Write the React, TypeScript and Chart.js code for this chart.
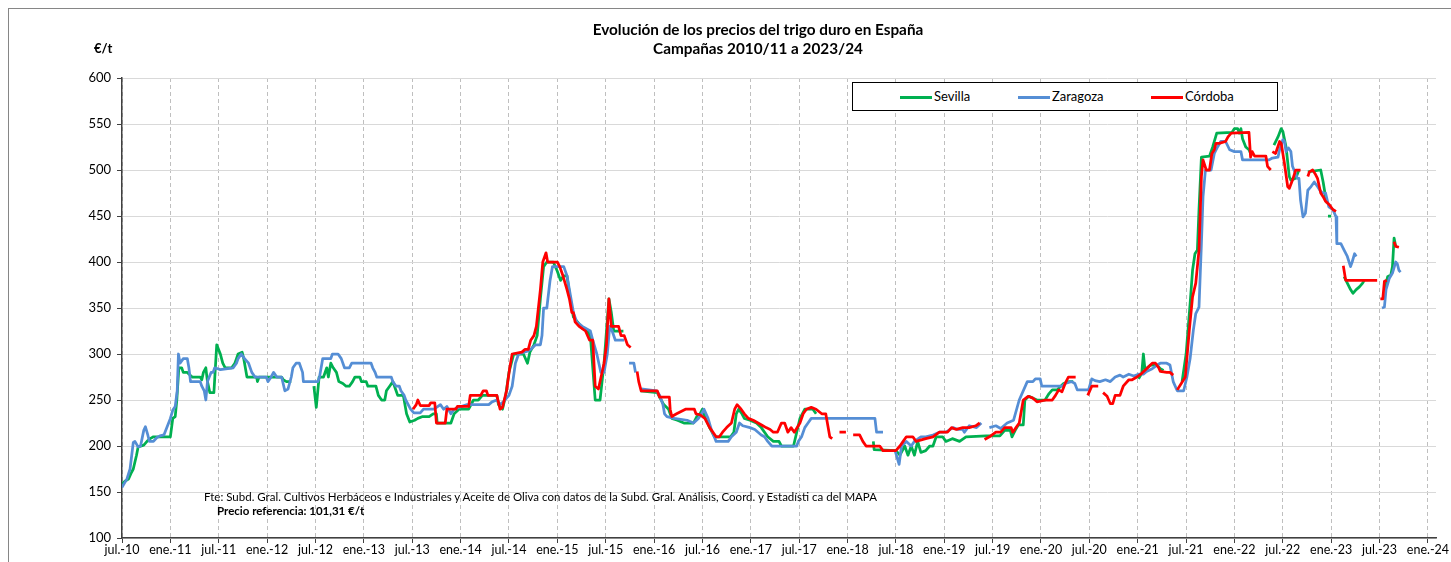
import React, { useEffect, useRef } from 'react';
import { Chart, registerables } from 'chart.js';

Chart.register(...registerables);

// x values are months elapsed since July 2010
const xTickLabels = [
  'jul.-10', 'ene.-11', 'jul.-11', 'ene.-12', 'jul.-12', 'ene.-13', 'jul.-13',
  'ene.-14', 'jul.-14', 'ene.-15', 'jul.-15', 'ene.-16', 'jul.-16', 'ene.-17',
  'jul.-17', 'ene.-18', 'jul.-18', 'ene.-19', 'jul.-19', 'ene.-20', 'jul.-20',
  'ene.-21', 'jul.-21', 'ene.-22', 'jul.-22', 'ene.-23', 'jul.-23', 'ene.-24',
];
const monthsPerTick = 6;
const xMaxMonths = 163;
const yMin = 100;
const yMax = 600;
const yStep = 50;

const seriesNames = ['Sevilla', 'Zaragoza', 'Córdoba'];

type P = [number, number | null];

const sevilla: P[] = [
  [0, 159], [0.4, 162], [0.8, 164], [1.1, 170], [1.4, 175], [1.8, 190], [2.0, 199], [2.7, 201],
  [3.1, 205], [3.5, 208], [3.9, 210], [6.0, 210], [6.3, 230], [6.6, 232], [6.8, 250], [7.05, 285],
  [7.4, 285], [7.6, 280], [8.1, 280], [8.7, 275], [9.7, 275], [9.9, 272], [10.1, 280], [10.4, 285],
  [10.6, 270], [10.9, 258], [11.4, 258], [11.75, 310], [12.2, 300], [12.5, 290], [12.8, 285],
  [13.6, 285], [14.0, 290], [14.2, 295], [14.4, 300], [14.9, 302], [15.1, 295], [15.3, 285],
  [15.5, 275], [16.7, 275], [16.8, 270], [17.0, 275], [19.8, 275], [20.0, 272], [20.4, 270],
  [21.0, 270], [21.1, null],
  [23.8, 265], [24.1, 242], [24.45, 275], [25.0, 275], [25.4, 285], [25.6, 275], [25.9, 290],
  [26.2, 285], [26.6, 280], [26.9, 270], [27.4, 268], [27.8, 265], [28.2, 265], [28.6, 270],
  [28.9, 275], [29.5, 275], [29.7, 270], [30.3, 270], [30.5, 265], [31.5, 265], [31.8, 255],
  [32.2, 250], [32.6, 250], [32.8, 260], [33.2, 265], [33.6, 270], [34.0, 260], [34.2, 255],
  [34.9, 255], [35.3, 235], [35.7, 226], [36.3, 228], [36.7, 230], [37.3, 232], [38.1, 232],
  [38.6, 235], [39.0, 235], [39.1, 225], [40.8, 225], [41.2, 235], [41.8, 240], [43.0, 240],
  [43.6, 250], [44.2, 250], [44.7, 255], [46.5, 255], [46.7, 245], [47.2, 240], [47.6, 255],
  [48.0, 280], [48.6, 300], [49.8, 300], [50.3, 290], [50.6, 302], [51.1, 310], [51.5, 320],
  [51.9, 360], [52.3, 395], [52.7, 400], [53.5, 400], [54.0, 390], [54.4, 380], [54.8, 385],
  [55.2, 385], [55.6, 360], [56.0, 340], [56.5, 335], [57.1, 328], [57.7, 325], [58.1, 320],
  [58.7, 250], [59.3, 250], [59.8, 290], [60.4, 360], [60.7, 345], [61.0, 325], [62.2, 325],
  [62.3, null],
  [64.3, 260], [66.4, 258], [66.7, 253], [67.2, 245], [67.8, 240], [68.2, 230], [68.9, 228],
  [69.7, 225], [70.9, 225], [71.3, 232], [71.7, 235], [72.0, 240], [72.3, 232], [72.9, 220],
  [73.5, 210], [75.5, 210], [75.9, 215], [76.2, 235], [76.5, 240], [76.9, 235], [77.2, 230],
  [77.9, 228], [78.7, 225], [79.3, 220], [80.1, 210], [80.8, 205], [81.5, 205], [81.8, 200],
  [83.3, 200], [83.7, 215], [84.1, 230], [84.7, 240], [85.7, 240], [86.1, 235], [86.3, null],
  [93.2, 205], [93.3, 196], [96.0, 195], [96.5, 190], [97.1, 200], [97.5, 190], [97.9, 200],
  [98.3, 190], [98.7, 205], [99.1, 193], [99.7, 195], [100.2, 200], [100.6, 200], [101.0, 210],
  [101.8, 210], [102.2, 205], [103.0, 208], [103.9, 205], [104.7, 210], [107.2, 211],
  [108.9, 211], [109.5, 217], [110.2, 217], [110.4, 210], [110.8, 217], [111.2, 223],
  [111.8, 223], [112.0, 250], [112.5, 254], [113.5, 250], [114.5, 250], [115.0, 257],
  [115.4, 261], [116.0, 261], [116.8, 268], [117.5, 270], [118.0, 270], [118.1, null],
  [126.1, 273], [126.5, 279], [126.7, 300], [126.9, 283], [127.6, 288], [128.4, 288],
  [128.8, 284], [129.2, 282], [129.3, null],
  [131.5, 270], [132.0, 300], [132.5, 355], [132.8, 391], [133.1, 409], [133.4, 413],
  [133.6, 457], [133.9, 514], [134.9, 515], [135.3, 525], [135.5, 531], [135.8, 540],
  [137.7, 541], [138.0, 545], [138.4, 545], [138.6, 540], [138.8, 545], [139.0, 534],
  [139.4, 525], [139.8, 522], [140.0, 518], [140.1, null],
  [142.9, 527], [143.4, 536], [143.8, 545], [144.0, 542], [144.4, 525], [144.8, 493],
  [145.0, 489], [145.6, 491], [146.0, 500], [146.1, null],
  [147.1, 498], [148.7, 500], [149.0, 487], [149.3, 471], [149.5, 464], [149.55, null],
  [149.6, 450], [150.0, 450], [150.1, null],
  [151.6, 384], [152.0, 377], [152.4, 370], [152.7, 366], [153.1, 370], [153.5, 373],
  [153.9, 377], [154.1, 380], [154.2, null],
  [156.6, 370], [157.0, 384], [157.4, 386], [157.6, 395], [157.8, 426], [158.0, 417],
];

const zaragoza: P[] = [
  [0, 155], [0.6, 164], [1.0, 175], [1.4, 204], [1.6, 205], [2.0, 199], [2.3, 200], [2.7, 217],
  [2.9, 221], [3.2, 212], [3.4, 205], [3.9, 205], [4.3, 209], [4.7, 211], [5.2, 212], [5.6, 221],
  [6.0, 230], [6.3, 239], [6.6, 243], [6.85, 260], [7.0, 300], [7.2, 290], [7.6, 295], [8.1, 295],
  [8.3, 285], [8.5, 270], [9.7, 270], [9.9, 265], [10.2, 260], [10.4, 250], [10.6, 270],
  [11.05, 280], [11.3, 280], [11.5, 285], [12.2, 283], [13.8, 285], [14.2, 290], [14.4, 295],
  [14.8, 300], [15.2, 295], [15.7, 290], [16.1, 280], [16.5, 275], [17.9, 275], [18.1, 270],
  [18.5, 275], [18.8, 280], [19.2, 275], [19.8, 275], [20.2, 260], [20.6, 262], [21.0, 275],
  [21.2, 285], [21.6, 290], [22.0, 290], [22.4, 280], [22.5, 270], [24.3, 270], [24.5, 275],
  [24.8, 290], [24.9, 295], [25.9, 295], [26.1, 300], [26.8, 300], [27.2, 295], [27.6, 285],
  [28.2, 285], [28.5, 290], [30.9, 290], [31.1, 285], [31.4, 280], [31.6, 275], [33.4, 275],
  [33.6, 270], [34.0, 265], [34.4, 265], [34.6, 260], [35.0, 255], [35.2, 250], [35.8, 240],
  [36.2, 236], [37.0, 236], [37.4, 240], [38.7, 240], [39.5, 245], [39.9, 240], [40.3, 243],
  [40.8, 235], [41.2, 240], [41.8, 242], [42.8, 245], [45.5, 245], [45.9, 248], [46.5, 250],
  [46.9, 245], [47.3, 248], [48.0, 255], [48.4, 265], [48.8, 290], [49.2, 300], [50.3, 303],
  [50.7, 305], [51.3, 310], [51.9, 310], [52.1, 320], [52.3, 350], [52.7, 350], [53.1, 380],
  [53.4, 395], [54.8, 395], [55.2, 385], [55.6, 365], [56.0, 345], [56.4, 335], [57.1, 330],
  [58.1, 325], [58.4, 315], [58.9, 300], [59.4, 280], [59.8, 280], [60.2, 300], [60.5, 330],
  [60.8, 325], [61.2, 315], [62.3, 315], [62.4, null],
  [62.9, 290], [63.5, 290], [63.7, 280], [63.8, null],
  [64.4, 262], [66.3, 260], [66.7, 255], [67.1, 245], [67.3, 235], [67.6, 232], [68.5, 230],
  [70.1, 228], [70.9, 225], [71.5, 230], [71.9, 235], [72.2, 240], [72.7, 230], [73.1, 218],
  [73.7, 205], [75.2, 205], [75.6, 210], [76.2, 215], [76.6, 225], [77.0, 222], [77.9, 220],
  [78.5, 218], [78.9, 215], [79.3, 212], [79.7, 210], [80.1, 205], [80.6, 200], [83.7, 200],
  [83.9, 205], [84.3, 210], [84.7, 220], [85.1, 225], [85.5, 230], [93.4, 230], [93.6, 215],
  [94.4, 215], [94.5, null],
  [95.9, 195], [96.4, 180], [96.7, 200], [97.3, 205], [97.9, 200], [98.3, 205], [99.1, 210],
  [99.7, 210], [100.6, 212], [101.4, 215], [102.2, 215], [103.1, 220], [103.7, 218],
  [104.3, 218], [104.5, 215], [105.1, 222], [106.0, 220], [106.6, 225], [106.7, null],
  [107.6, 220], [108.4, 222], [109.0, 219], [109.8, 225], [110.6, 228], [111.3, 250],
  [112.3, 270], [113.0, 270], [113.3, 273], [113.9, 273], [114.1, 265], [116.6, 265],
  [117.0, 268], [117.4, 269], [117.8, 270], [118.2, 268], [118.5, 261], [119.9, 261],
  [120.3, 273], [120.7, 271], [121.3, 270], [122.0, 272], [122.6, 270], [123.2, 275],
  [123.8, 277], [124.2, 275], [124.9, 278], [125.5, 276], [126.1, 278], [126.7, 278],
  [127.1, 281], [127.8, 284], [128.4, 288], [128.8, 290], [129.6, 290], [130.0, 288],
  [130.4, 270], [130.9, 260], [131.7, 260], [132.1, 275], [132.5, 295], [132.9, 326],
  [133.2, 344], [133.6, 351], [133.9, 420], [134.1, 471], [134.4, 500], [135.1, 500],
  [135.5, 518], [135.9, 525], [136.3, 531], [136.9, 531], [137.4, 522], [138.0, 520],
  [138.8, 520], [139.0, 511], [142.3, 511], [142.7, 513], [143.4, 514], [143.6, 522],
  [144.0, 533], [144.2, 531], [144.4, 520], [144.7, 524], [145.0, 520], [145.2, 504],
  [145.8, 491], [146.0, 491], [146.2, 467], [146.5, 449], [146.8, 453], [147.1, 478],
  [147.5, 482], [147.9, 487], [148.3, 482], [148.6, 478], [148.9, 475], [149.3, 475],
  [149.7, 460], [150.2, 457], [150.6, 449], [150.7, 420], [151.2, 420], [151.6, 413],
  [152.0, 406], [152.4, 395], [152.6, 400], [152.9, 409], [153.1, 406], [153.2, null],
  [156.3, 350], [156.6, 351], [156.8, 370], [157.2, 382], [157.6, 388], [158.0, 400],
  [158.2, 398], [158.4, 391], [158.6, 389],
];

const cordoba: P[] = [
  [36.1, 240], [36.5, 245], [36.7, 250], [37.0, 244], [38.1, 244], [38.3, 247], [38.8, 247],
  [39.0, 225], [40.1, 225], [40.3, 240], [41.4, 240], [41.6, 243], [43.0, 243], [43.2, 255],
  [44.5, 255], [44.8, 260], [45.2, 260], [45.4, 255], [46.5, 255], [46.9, 240], [47.2, 242],
  [47.7, 260], [48.1, 285], [48.4, 300], [49.6, 302], [50.0, 305], [50.4, 305], [50.7, 315],
  [51.1, 320], [51.4, 330], [51.9, 370], [52.2, 400], [52.6, 410], [52.8, 400], [54.0, 400],
  [54.3, 395], [54.7, 385], [55.2, 370], [55.5, 360], [55.8, 345], [56.0, 345], [56.2, 335],
  [56.7, 330], [57.5, 325], [58.0, 315], [58.4, 315], [58.7, 265], [59.1, 262], [59.8, 290],
  [60.1, 310], [60.4, 360], [60.7, 330], [61.6, 330], [61.9, 320], [62.3, 320], [62.7, 310],
  [63.1, 307], [63.2, null],
  [63.9, 281], [64.1, 270], [64.4, 260], [66.4, 260], [66.7, 253], [67.9, 253], [68.0, 240],
  [68.2, 232], [68.8, 235], [69.9, 240], [71.0, 240], [71.2, 235], [71.7, 234], [72.3, 230],
  [72.9, 220], [73.7, 210], [74.1, 210], [74.5, 215], [75.0, 220], [75.6, 225], [76.0, 240],
  [76.3, 245], [76.8, 240], [77.2, 235], [77.7, 230], [78.3, 228], [78.9, 225], [79.5, 222],
  [79.9, 220], [80.4, 218], [80.8, 215], [81.3, 215], [81.8, 225], [82.2, 225], [82.6, 215],
  [83.0, 220], [83.4, 215], [84.1, 225], [84.5, 235], [84.9, 240], [85.5, 242], [86.1, 240],
  [86.8, 235], [87.3, 235], [87.8, 210], [88.1, 208], [88.2, null],
  [89.0, 215], [89.8, 215], [89.9, null],
  [90.7, 212], [91.5, 212], [91.9, 205], [92.3, 200], [94.0, 200], [94.4, 195], [96.0, 195],
  [96.5, 200], [96.9, 205], [97.3, 210], [98.1, 210], [98.5, 205], [99.7, 208], [100.6, 210],
  [101.4, 215], [102.4, 215], [102.9, 220], [103.5, 218], [104.3, 220], [105.1, 220],
  [105.9, 222], [106.4, 225], [106.5, null],
  [107.0, 207], [107.6, 210], [108.4, 215], [109.0, 215], [109.5, 220], [110.3, 220],
  [110.5, 215], [110.9, 220], [111.3, 225], [111.8, 250], [112.4, 254], [113.0, 252],
  [113.5, 248], [114.6, 250], [115.4, 250], [115.8, 255], [116.2, 261], [116.6, 259],
  [117.0, 268], [117.4, 275], [118.3, 275], [118.4, null],
  [119.8, 255], [120.3, 265], [121.1, 265], [121.2, null],
  [121.7, 258], [122.2, 254], [122.6, 246], [122.9, 246], [123.2, 255], [123.8, 255],
  [124.2, 265], [124.9, 272], [125.3, 272], [125.9, 275], [126.5, 279], [127.1, 284],
  [127.8, 290], [128.2, 290], [128.6, 285], [128.8, 281], [129.6, 280], [130.0, 280],
  [130.4, 277], [130.5, null],
  [130.9, 261], [131.4, 268], [131.9, 275], [132.4, 326], [132.8, 362], [133.2, 377],
  [133.6, 413], [133.9, 493], [134.1, 511], [134.5, 500], [134.9, 500], [135.2, 518],
  [135.5, 522], [135.7, 529], [136.1, 529], [136.9, 531], [137.2, 536], [137.6, 540],
  [139.8, 541], [140.0, 514], [140.2, 520], [140.5, 515], [141.9, 515], [142.1, 504],
  [142.5, 500], [142.6, null],
  [142.7, 520], [143.1, 518], [143.6, 531], [143.8, 529], [144.2, 507], [144.6, 482],
  [144.8, 480], [145.2, 489], [145.6, 500], [146.2, 500], [146.3, null],
  [147.1, 493], [147.3, 498], [147.7, 500], [148.0, 496], [148.3, 491], [148.7, 475],
  [149.0, 471], [149.3, 466], [149.8, 462], [150.2, 457], [150.6, 455], [150.7, null],
  [151.5, 396], [151.8, 380], [155.7, 380], [155.8, null],
  [156.1, 360], [156.4, 360], [156.6, 379], [156.9, 380], [157.0, null],
  [157.8, 422], [158.0, 417], [158.4, 416],
];

const seriesColors = ['#00b050', '#558ed5', '#ff0000'];

const toPoints = (arr: P[]) => arr.map(([x, y]) => ({ x, y }));

const CANVAS_W = 1442;
const CANVAS_H = 553;

export default function App() {
  const canvasRef = useRef<HTMLCanvasElement | null>(null);

  useEffect(() => {
    document.documentElement.style.overflow = 'hidden';
    const canvas = canvasRef.current;
    if (!canvas) return;
    const allSeries = [sevilla, zaragoza, cordoba];
    const chart = new Chart(canvas, {
      type: 'line',
      data: {
        datasets: allSeries.map((s, i) => ({
          label: seriesNames[i],
          data: toPoints(s),
          borderColor: seriesColors[i],
          backgroundColor: seriesColors[i],
          borderWidth: 2.75,
          pointRadius: 0,
          tension: 0,
          spanGaps: false,
          borderJoinStyle: 'round' as const,
          order: 3 - i,
        })),
      },
      options: {
        animation: false,
        responsive: false,
        maintainAspectRatio: false,
        parsing: { xAxisKey: 'x', yAxisKey: 'y' },
        layout: { padding: { top: 69, right: CANVAS_W - 1427, left: 0, bottom: 0 } },
        plugins: {
          legend: { display: false },
          title: { display: false },
          tooltip: { enabled: false },
        },
        scales: {
          x: {
            type: 'linear',
            min: 0,
            max: xMaxMonths,
            afterBuildTicks: (scale: any) => {
              scale.ticks = xTickLabels.map((_, i) => ({ value: i * monthsPerTick }));
            },
            afterFit: (scale: any) => {
              scale.height = 24;
            },
            ticks: {
              autoSkip: false,
              maxRotation: 0,
              minRotation: 0,
              padding: -1,
              color: '#000',
              font: { family: 'Lato', size: 12.5 },
              callback: (_v: any, index: number) => xTickLabels[index] ?? '',
            },
            grid: {
              color: '#bfbfbf',
              lineWidth: 1,
              drawTicks: true,
              tickLength: 5,
              tickColor: '#404040',
            },
            border: { color: '#404040', width: 1.5, dash: [4, 3] },
          },
          y: {
            min: yMin,
            max: yMax,
            afterFit: (scale: any) => {
              scale.width = 113;
            },
            ticks: {
              stepSize: yStep,
              padding: 6,
              color: '#000',
              font: { family: 'Lato', size: 13 },
            },
            grid: {
              color: '#d9d9d9',
              lineWidth: 1,
              drawTicks: true,
              tickLength: 5,
              tickColor: '#404040',
            },
            border: { color: '#404040', width: 1.5 },
          },
        },
      },
    } as any);
    return () => chart.destroy();
  }, []);

  const legendItems = [
    { name: seriesNames[0], color: seriesColors[0], lineLeft: 47, textLeft: 81 },
    { name: seriesNames[1], color: seriesColors[1], lineLeft: 165, textLeft: 199 },
    { name: seriesNames[2], color: seriesColors[2], lineLeft: 298, textLeft: 332 },
  ];

  return (
    <div
      style={{
        position: 'fixed',
        left: 8,
        top: 8,
        width: CANVAS_W,
        height: CANVAS_H,
        borderLeft: '1px solid #868686',
        borderTop: '1px solid #868686',
        fontFamily: 'Lato, sans-serif',
        color: '#000',
        background: '#fff',
      }}
    >
      <canvas
        ref={canvasRef}
        width={CANVAS_W}
        height={CANVAS_H}
        style={{ position: 'absolute', left: 0, top: 0, display: 'block' }}
      />
      <div
        style={{
          position: 'absolute',
          left: 449,
          width: 600,
          top: 11,
          textAlign: 'center',
          fontWeight: 700,
          fontSize: 15.3,
          lineHeight: '19px',
        }}
      >
        <div>Evolución de los precios del trigo duro en España</div>
        <div>Campañas 2010/11 a 2023/24</div>
      </div>
      <div style={{ position: 'absolute', left: 85, top: 31, fontWeight: 700, fontSize: 13, lineHeight: '16px' }}>€/t</div>
      <div
        style={{
          position: 'absolute',
          left: 843,
          top: 73,
          width: 426,
          height: 29,
          boxSizing: 'border-box',
          border: '1px solid #000',
          background: '#fff',
        }}
      >
        {legendItems.map((it) => (
          <React.Fragment key={it.name}>
            <div style={{ position: 'absolute', left: it.lineLeft, top: 13, width: 32, height: 3, background: it.color }} />
            <div style={{ position: 'absolute', left: it.textLeft, top: 0, fontSize: 13, lineHeight: '27px', whiteSpace: 'nowrap' }}>
              {it.name}
            </div>
          </React.Fragment>
        ))}
      </div>
      <div style={{ position: 'absolute', left: 195, top: 481, fontSize: 11.5, lineHeight: '14px', whiteSpace: 'nowrap' }}>
        Fte: Subd. Gral. Cultivos Herbáceos e Industriales y Aceite de Oliva con datos de la Subd. Gral. Análisis, Coord. y Estadísti ca del MAPA
      </div>
      <div style={{ position: 'absolute', left: 208, top: 495, fontSize: 11.5, fontWeight: 700, lineHeight: '14px', whiteSpace: 'nowrap' }}>
        Precio referencia: 101,31 €/t
      </div>
    </div>
  );
}
